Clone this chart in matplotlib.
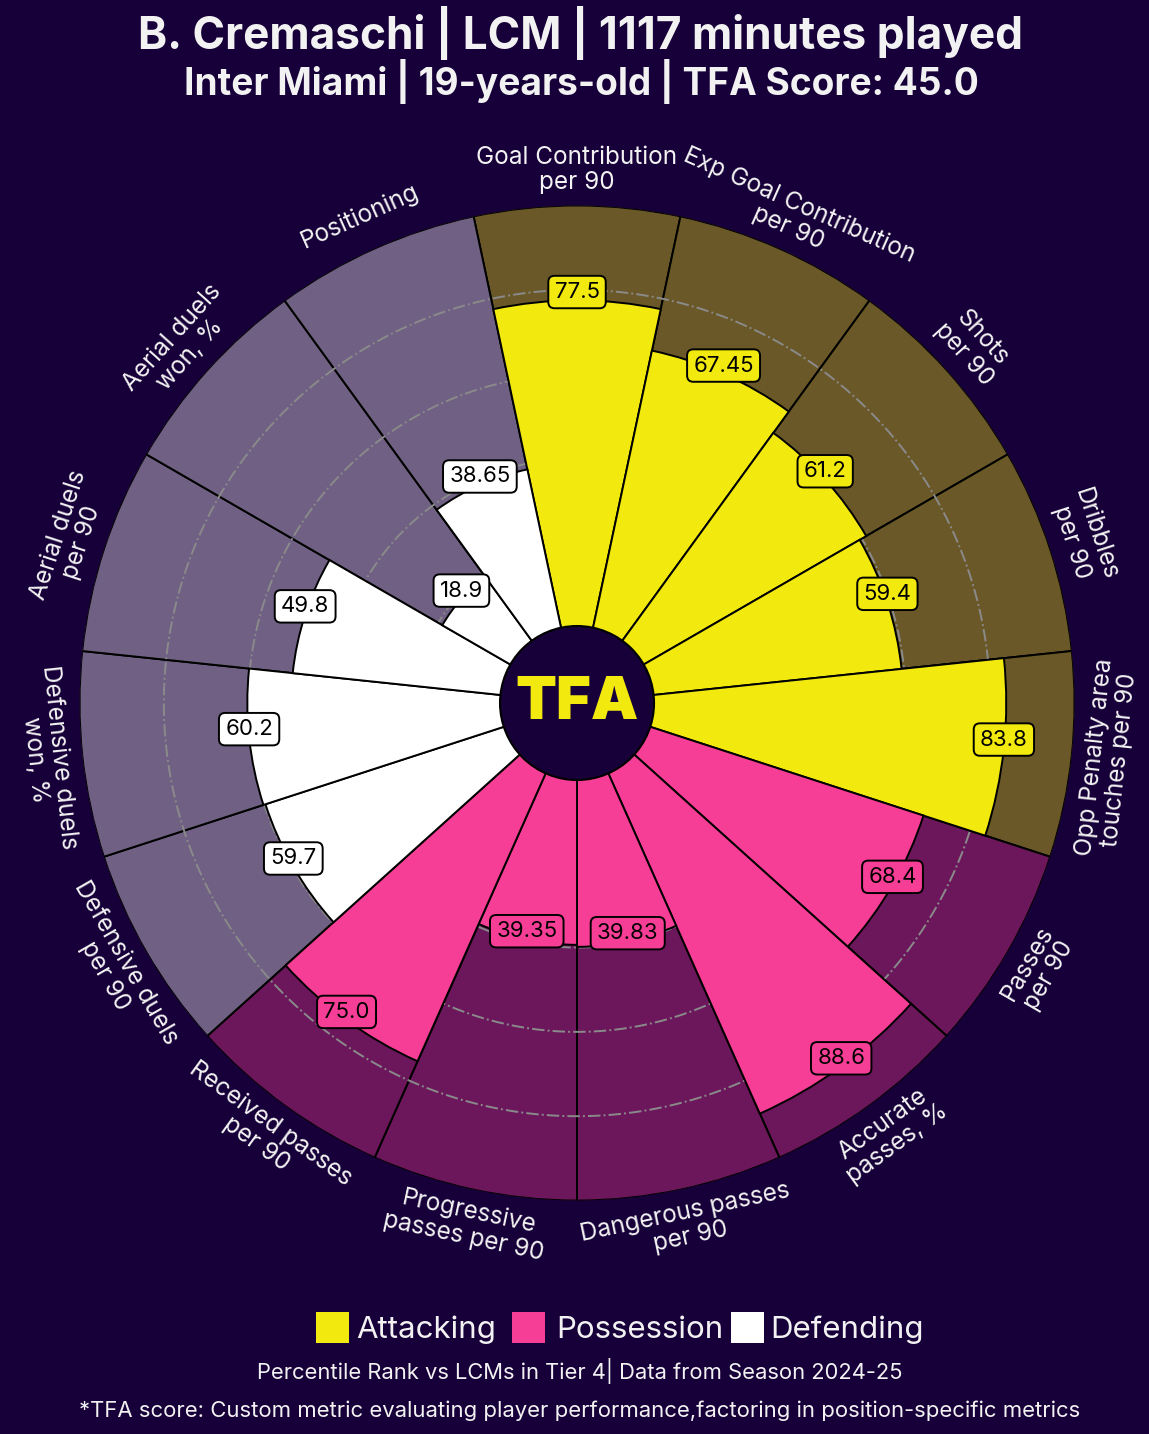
import numpy as np
import matplotlib.pyplot as plt
from matplotlib.patches import Circle, Rectangle

plt.rcParams['font.family'] = ['Inter', 'DejaVu Sans']

BG = "#170039"
TXT = "#F2F2F2"

# ---- data ----
params = ["Goal Contribution\nper 90", "Exp Goal Contribution\nper 90", "Shots\nper 90",
          "Dribbles\nper 90", "Opp Penalty area\ntouches per 90", "Passes\nper 90",
          "Accurate\npasses, %", "Dangerous passes\nper 90", "Progressive\npasses per 90",
          "Received passes\nper 90", "Defensive duels\nper 90", "Defensive duels\nwon, %",
          "Aerial duels\nper 90", "Aerial duels\nwon, %", "Positioning"]
values = [77.5, 67.45, 61.2, 59.4, 83.8, 68.4, 88.6, 39.83, 39.35, 75.0,
          59.7, 60.2, 49.8, 18.9, 38.65]
groups = ["Attacking"] * 5 + ["Possession"] * 5 + ["Defending"] * 5
group_names = ["Attacking", "Possession", "Defending"]
group_colors = {"Attacking": "#F2E90E", "Possession": "#F73E96", "Defending": "#FFFFFF"}

title = "B. Cremaschi | LCM | 1117 minutes played"
subtitle = "Inter Miami | 19-years-old | TFA Score: 45.0"
footer1 = "Percentile Rank vs LCMs in Tier 4| Data from Season 2024-25"
footer2 = "*TFA score: Custom metric evaluating player performance,factoring in position-specific metrics"

INNER = 18  # hole in the middle, in value units

fig = plt.figure(figsize=(11.49, 14.34), dpi=100, facecolor=BG)
ax = fig.add_axes([0.0692, 0.1628, 0.866, 0.6939], projection="polar")
ax.set_axis_off()
ax.set_ylim(-INNER, 100)

n = len(values)
deg = 90 - 24 * np.arange(n)
theta = np.deg2rad(deg)
width = np.deg2rad(360 / n)
cols = [group_colors[g] for g in groups]

# background slices (faded colour)
bg_cols = []
for c in cols:
    r, g, b = [int(c[i:i + 2], 16) / 255 for i in (1, 3, 5)]
    bg_cols.append((r, g, b, 0.38))
ax.bar(theta, 100 + INNER, bottom=-INNER, width=width, color=bg_cols,
       edgecolor="black", linewidth=1.4, zorder=1)

# grid circles
tt = np.linspace(0, 2 * np.pi, 600)
for gv in [20, 40, 60, 80]:
    ax.plot(tt, np.full_like(tt, gv), ls="-.", color="#8a8a8a", lw=1.4, zorder=2)

# value slices
ax.bar(theta, np.array(values) + INNER, bottom=-INNER, width=width, color=cols,
       edgecolor="black", linewidth=1.4, zorder=3)

# centre circle + logo
ax.add_patch(Circle((0.5, 0.5), 77 / 995, transform=ax.transAxes, facecolor=BG,
                    edgecolor="black", lw=1.5, zorder=5, clip_on=False))
ax.text(0.5, 0.5, "TFA", transform=ax.transAxes, ha="center", va="center",
        fontsize=43, fontweight="black", color="#F2E90E", zorder=6)

# value labels
for t, v, c in zip(theta, values, cols):
    ax.annotate(str(v), xy=(t, v), xytext=(0, 6), textcoords="offset points",
                ha="center", va="center", fontsize=16, color="black", zorder=7,
                bbox=dict(boxstyle="round,pad=0.28", fc=c, ec="black", lw=1.4))

# parameter labels
for t, d, p in zip(theta, deg, params):
    d = (d + 180) % 360 - 180
    rot = d - 90 if d >= 0 else d + 90
    ax.text(t, 108.4, p, rotation=rot, rotation_mode="anchor", ha="center",
            va="center", multialignment="center", fontsize=17.5, color=TXT,
            linespacing=1.1, zorder=7)

# titles
fig.text(581 / 1149, 1 - 33 / 1434, title, ha="center", va="center",
         fontsize=31.8, fontweight="bold", color=TXT)
fig.text(581 / 1149, 1 - 81 / 1434, subtitle, ha="center", va="center",
         fontsize=26.7, fontweight="bold", color=TXT)

# legend
W, H = 1149, 1434
leg_sq_x = [316, 512, 731]
leg_txt_x = [356, 556, 770]
for name, sx, tx in zip(group_names, leg_sq_x, leg_txt_x):
    fig.patches.append(Rectangle((sx / W, 1 - 1343 / H), 33 / W, 31 / H,
                                 transform=fig.transFigure, facecolor=group_colors[name],
                                 edgecolor="none"))
    fig.text(tx / W, 1 - 1330 / H, name, ha="left", va="center", fontsize=22.5, color=TXT)

fig.text(580 / W, 1 - 1371 / H, footer1, ha="center", va="center", fontsize=15.8, color=TXT)
fig.text(580 / W, 1 - 1411 / H, footer2, ha="center", va="center", fontsize=15.9, color=TXT)

fig.savefig("out.png", dpi=100, facecolor=BG)
